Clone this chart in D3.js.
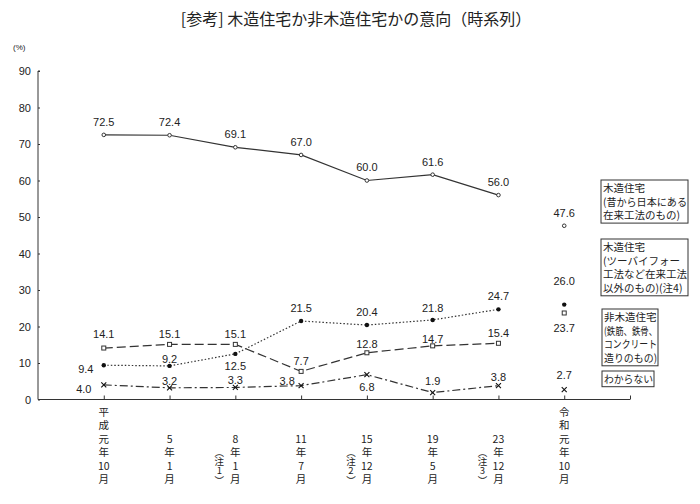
<!DOCTYPE html>
<html>
<head>
<meta charset="utf-8">
<script src="https://cdn.jsdelivr.net/npm/d3@7"></script>
<style>
  body { margin: 0; background: #fff; }
  svg { display: block; font-family: "Liberation Sans", Arial, sans-serif; }
  .jp { font-family: "Noto Sans CJK JP", sans-serif; }
</style>
</head>
<body>
<svg id="chart" width="700" height="504"></svg>
<script>
const categories = ["平成元年10月", "5年1月", "8年1月", "11年7月", "15年12月", "19年5月", "23年12月", "令和元年10月"];
const notes = [null, null, "1", null, "2", null, "3", null];

const woodTraditional = [72.5, 72.4, 69.1, 67.0, 60.0, 61.6, 56.0, 47.6];
const woodOther = [9.4, 9.2, 12.5, 21.5, 20.4, 21.8, 24.7, 26.0];
const nonWood = [14.1, 15.1, 15.1, 7.7, 12.8, 14.7, 15.4, 23.7];
const unknown = [4.0, 3.2, 3.3, 3.8, 6.8, 1.9, 3.8, 2.7];

const yTicks = [0, 10, 20, 30, 40, 50, 60, 70, 80, 90];

const legendTexts = [
  ["木造住宅", "(昔から日本にある", "在来工法のもの)"],
  ["木造住宅", "(ツーバイフォー", "工法など在来工法", "以外のもの)(注4)"],
  ["非木造住宅", "(鉄筋、鉄骨、", "コンクリート", "造りのもの)"],
  ["わからない"]
];

const svg = d3.select("#chart");
const ink = "#333";

// index -1 is the axis origin, index 8 the right end
const x = d3.scaleLinear().domain([-1, 8]).range([38, 630]);
const y = d3.scaleLinear().domain([0, 90]).range([399.5, 71]);

// title
svg.append("text")
  .attr("class", "jp")
  .attr("x", 356).attr("y", 25)
  .attr("text-anchor", "middle")
  .attr("font-size", 16)
  .attr("fill", "#222")
  .text("[参考] 木造住宅か非木造住宅かの意向（時系列）");

svg.append("text")
  .attr("x", 13).attr("y", 50)
  .attr("font-size", 8)
  .attr("fill", "#222")
  .text("(%)");

// y axis
const yAxis = svg.append("g")
  .attr("transform", `translate(${x(-1)},0)`)
  .call(d3.axisRight(y).tickValues(yTicks).tickSize(2).tickFormat(""));
yAxis.select(".domain").attr("stroke", ink).attr("d", `M2,${y(90)}H0V${y(0)}`);
yAxis.selectAll(".tick line").attr("stroke", ink);

svg.append("g").selectAll("text")
  .data(yTicks)
  .join("text")
  .attr("x", 31).attr("y", d => y(d) + 4)
  .attr("text-anchor", "end")
  .attr("font-size", 11)
  .attr("fill", "#222")
  .text(d => d);

// x axis, ticks pointing up
const xAxis = svg.append("g")
  .attr("transform", `translate(0,${y(0)})`)
  .call(d3.axisTop(x).tickValues(d3.range(0, 9)).tickSize(4).tickFormat(""));
xAxis.select(".domain").attr("stroke", ink).attr("d", `M${x(-1)},0H${x(8)}`);
xAxis.selectAll(".tick line").attr("stroke", ink);

// vertical category labels, bottom aligned, one text per category
const lineH = 13.4;
categories.forEach((c, i) => {
  const parts = c.match(/\d+|./g);
  const t = svg.append("text").attr("class", "jp").attr("font-size", 10.5)
    .attr("fill", "#222").attr("text-anchor", "middle");
  parts.forEach((p, k) => {
    t.append("tspan")
      .attr("x", x(i)).attr("y", 483 - (parts.length - 1 - k) * lineH)
      .text(p);
  });
  if (notes[i]) {
    // (注n) stacked vertically with vertical-form brackets
    const n = svg.append("text").attr("class", "jp").attr("font-size", 9.5)
      .attr("fill", "#222").attr("text-anchor", "middle");
    ["︵", "注", notes[i], "︶"].forEach((p, k) => {
      n.append("tspan")
        .attr("x", x(i) - 16).attr("y", 456 + k * 9.2)
        .text(p);
    });
  }
});

// series
const series = [
  { values: woodTraditional, dash: null, marker: "circle",
    offs: [[0,-13],[0,-13],[0,-13],[0,-13],[0,-13],[0,-13],[0,-13],[0,-13]] },
  { values: woodOther, dash: "1.5,2", marker: "dot",
    offs: [[-18,4],[0,-7],[0,12],[0,-13],[0,-13],[0,-12],[0,-13],[0,-23]] },
  { values: nonWood, dash: "9,4", marker: "square",
    offs: [[0,-14],[0,-10],[0,-10],[0,-10],[0,-9],[0,-7],[0,-10],[0,15]] },
  { values: unknown, dash: "8,3,2,3", marker: "cross",
    offs: [[-20,4],[0,-7],[0,-7],[-14,-4],[0,12],[0,-11],[0,-8],[0,-14]] }
];

const line = d3.line()
  .x((d, i) => x(i))
  .y(d => y(d));

series.forEach(s => {
  svg.append("path")
    .datum(s.values.slice(0, 7))
    .attr("fill", "none")
    .attr("stroke", ink)
    .attr("stroke-width", 1.2)
    .attr("stroke-dasharray", s.dash)
    .attr("d", line);

  const pts = svg.append("g").selectAll("g")
    .data(s.values)
    .join("g")
    .attr("transform", (d, i) => `translate(${x(i)},${y(d)})`);

  if (s.marker === "circle") {
    pts.append("circle").attr("r", 1.8).attr("fill", "#fff").attr("stroke", ink).attr("stroke-width", 1);
  } else if (s.marker === "dot") {
    pts.append("circle").attr("r", 2.2).attr("fill", "#111");
  } else if (s.marker === "square") {
    pts.append("rect").attr("x", -2).attr("y", -2).attr("width", 4).attr("height", 4)
      .attr("fill", "#fff").attr("stroke", ink).attr("stroke-width", 1);
  } else {
    pts.append("path").attr("d", "M-2.5,-2.5L2.5,2.5M-2.5,2.5L2.5,-2.5")
      .attr("stroke", "#111").attr("stroke-width", 1.1);
  }

  svg.append("g").selectAll("text")
    .data(s.values)
    .join("text")
    .attr("x", (d, i) => x(i) + s.offs[i][0])
    .attr("y", (d, i) => y(d) + s.offs[i][1])
    .attr("dy", "0.35em")
    .attr("text-anchor", "middle")
    .attr("font-size", 11)
    .attr("fill", "#222")
    .text(d => d.toFixed(1));
});

// legend boxes
const boxes = [
  { x: 601, y: 180, w: 87 },
  { x: 601, y: 239, w: 87 },
  { x: 602, y: 309, w: 56 },
  { x: 602, y: 371, w: 52 }
];
legendTexts.forEach((lines, i) => {
  const b = boxes[i];
  const h = lines.length * 13.7 + 2;
  svg.append("rect")
    .attr("x", b.x).attr("y", b.y).attr("width", b.w).attr("height", h)
    .attr("fill", "#fff").attr("stroke", ink).attr("stroke-width", 1);
  const t = svg.append("text").attr("class", "jp").attr("font-size", 10.5).attr("fill", "#222");
  lines.forEach((l, k) => {
    const ts = t.append("tspan")
      .attr("x", b.x + 2).attr("y", b.y + 12 + k * 13.7)
      .text(l);
    const maxW = b.w - 3;
    if (ts.node().getComputedTextLength() > maxW) {
      ts.attr("textLength", maxW).attr("lengthAdjust", "spacingAndGlyphs");
    }
  });
});
</script>
</body>
</html>
